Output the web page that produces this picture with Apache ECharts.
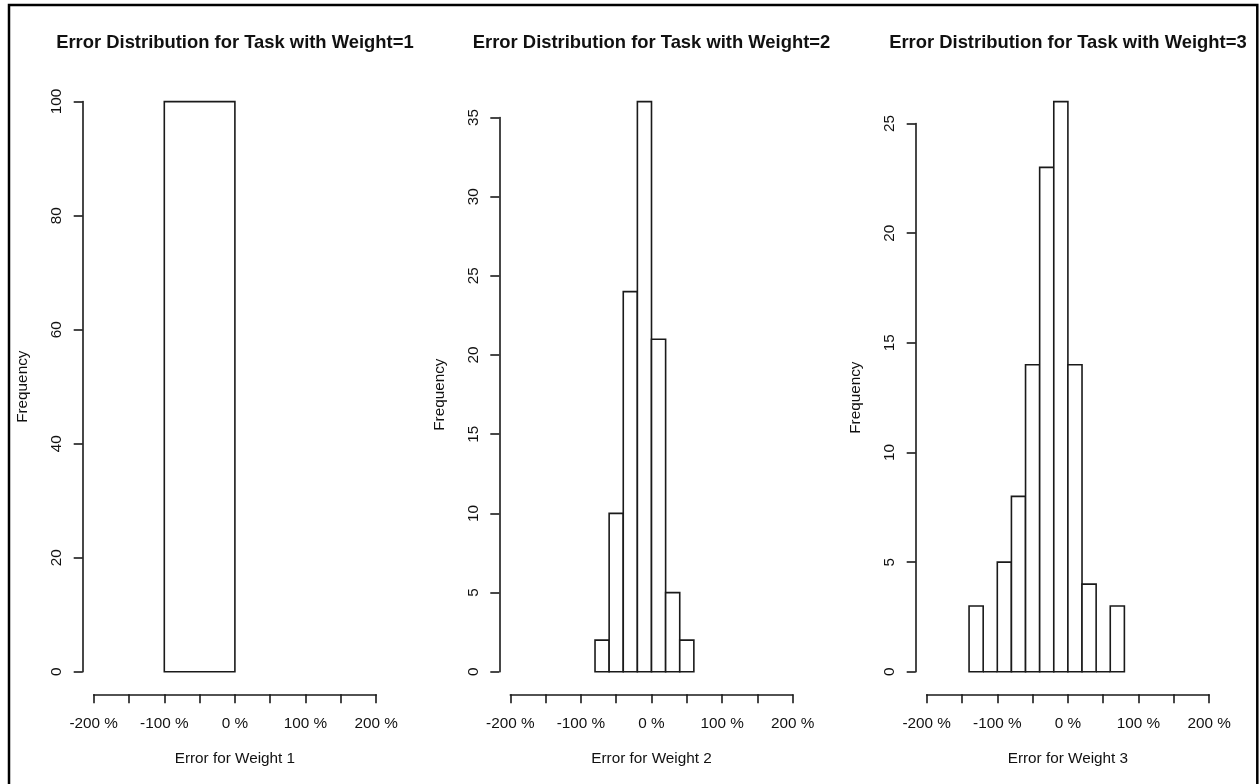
<!DOCTYPE html>
<html>
<head>
<meta charset="utf-8">
<script src="https://cdn.jsdelivr.net/npm/echarts@6/dist/echarts.min.js"></script>
<style>
html,body{margin:0;padding:0;background:#fff;}
#chart{width:1259px;height:784px;}
</style>
</head>
<body>
<div id="chart"></div>
<script>
// ---- Data ----
const titles = [
  'Error Distribution for Task with Weight=1',
  'Error Distribution for Task with Weight=2',
  'Error Distribution for Task with Weight=3'
];
const xNames = ['Error for Weight 1', 'Error for Weight 2', 'Error for Weight 3'];
const yName = 'Frequency';

// bin edges (percent error) and counts per panel
const w1Edges = [-100, 0];
const w1Counts = [100];
const w2Edges = [-80, -60, -40, -20, 0, 20, 40, 60];
const w2Counts = [2, 10, 24, 36, 21, 5, 2];
const w3Edges = [-140, -120, -100, -80, -60, -40, -20, 0, 20, 40, 60, 80];
const w3Counts = [3, 0, 5, 8, 14, 23, 26, 14, 4, 0, 3];

const yTickIntervals = [20, 5, 5];
const xMin = -200, xMax = 200, xTickInterval = 50;
const xLabelValues = [-200, -100, 0, 100, 200];

// ---- Layout ----
const panels = [
  {edges: w1Edges, counts: w1Counts},
  {edges: w2Edges, counts: w2Counts},
  {edges: w3Edges, counts: w3Counts}
];
const plotLeft = [93.7, 510.3, 926.7];
const plotWidth = 282.4;
const yAxisX = [82.7, 499.3, 915.7];
const yZero = 671.8;
const plotH = 570.2;
const xAxisOffset = 22.5;
const FONT = '"Liberation Sans", Arial, sans-serif';
const lineColor = '#1a1a1a';
const textColor = '#111';

const grid = [], xAxis = [], yAxis = [], series = [], title = [];

panels.forEach((p, i) => {
  const M = Math.max.apply(null, p.counts);
  const I = yTickIntervals[i];
  const T = Math.floor(M / I) * I;

  // bars grid
  grid.push({left: plotLeft[i], width: plotWidth, top: yZero - plotH, height: plotH, containLabel: false});
  xAxis.push({
    gridIndex: 2 * i, type: 'value', min: xMin, max: xMax, interval: xTickInterval,
    position: 'bottom', offset: xAxisOffset,
    axisLine: {show: true, onZero: false, lineStyle: {color: lineColor, width: 1.6}},
    axisTick: {show: true, length: 9, lineStyle: {color: lineColor, width: 1.6}},
    splitLine: {show: false},
    axisLabel: {
      show: true, margin: 21.5, color: textColor, fontFamily: FONT, fontSize: 15.3,
      formatter: v => xLabelValues.indexOf(v) >= 0 ? v + ' %' : ''
    },
    name: xNames[i], nameLocation: 'middle', nameGap: 57,
    nameTextStyle: {color: textColor, fontFamily: FONT, fontSize: 15.3}
  });
  yAxis.push({gridIndex: 2 * i, type: 'value', min: 0, max: M, show: false});

  // y-axis grid (axis spans 0 .. last tick, like R)
  const hT = plotH * T / M;
  grid.push({left: yAxisX[i], width: 1, top: yZero - hT, height: hT, containLabel: false});
  xAxis.push({gridIndex: 2 * i + 1, type: 'value', min: 0, max: 1, show: false});
  yAxis.push({
    gridIndex: 2 * i + 1, type: 'value', min: 0, max: T, interval: I,
    axisLine: {show: true, onZero: false, lineStyle: {color: lineColor, width: 1.6}},
    axisTick: {show: true, length: 9, lineStyle: {color: lineColor, width: 1.6}},
    splitLine: {show: false},
    axisLabel: {show: true, rotate: 90, margin: 18, color: textColor, fontFamily: FONT, fontSize: 15.3},
    name: yName, nameLocation: 'middle', nameRotate: 90, nameGap: 52,
    nameTextStyle: {color: textColor, fontFamily: FONT, fontSize: 15.3}
  });

  const data = p.counts.map((c, k) => [p.edges[k], p.edges[k + 1], c]);
  series.push({
    type: 'custom', xAxisIndex: 2 * i, yAxisIndex: 2 * i,
    encode: {x: [0, 1], y: 2},
    data: data,
    silent: true,
    clip: false,
    renderItem: (params, api) => {
      const s = api.coord([api.value(0), 0]);
      const e = api.coord([api.value(1), api.value(2)]);
      return {
        type: 'rect',
        shape: {x: s[0], y: e[1], width: e[0] - s[0], height: s[1] - e[1]},
        style: {fill: '#fff', stroke: lineColor, lineWidth: 1.6}
      };
    }
  });

  title.push({
    text: titles[i], left: plotLeft[i] + plotWidth / 2, top: 34, textAlign: 'center', padding: 0,
    textStyle: {color: textColor, fontFamily: FONT, fontSize: 18.4, fontWeight: 'bold'}
  });
});

const chart = echarts.init(document.getElementById('chart'), null, {renderer: 'canvas'});
chart.setOption({
  backgroundColor: '#fff',
  animation: false,
  title: title,
  grid: grid,
  xAxis: xAxis,
  yAxis: yAxis,
  series: series,
  graphic: [{
    type: 'rect', silent: true, z: 100,
    shape: {x: 9, y: 5, width: 1248.3, height: 800},
    style: {fill: 'none', stroke: '#000', lineWidth: 2.5}
  }]
});
</script>
</body>
</html>
